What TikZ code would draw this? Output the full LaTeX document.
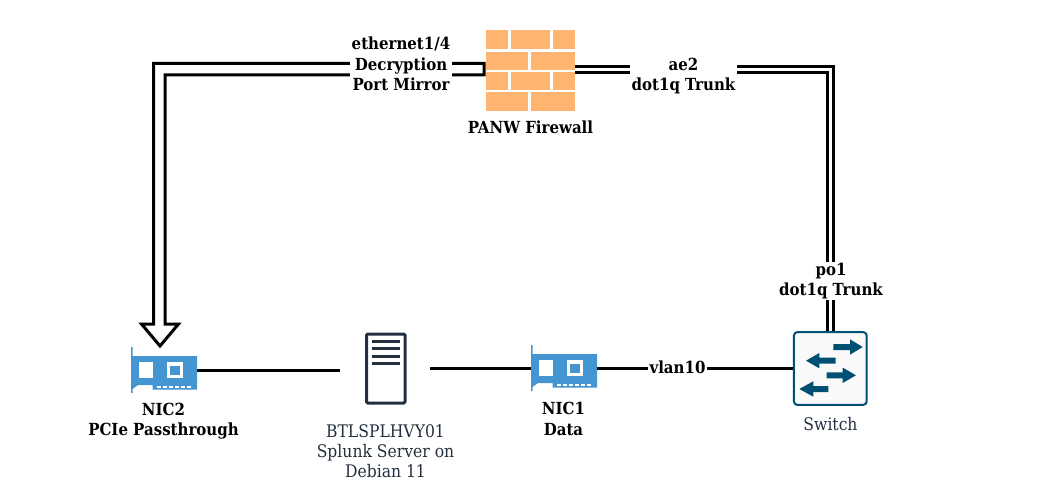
\documentclass[tikz,border=0pt]{standalone}
\usepackage{fontspec}
\setmainfont{DejaVu Serif Condensed}
\usetikzlibrary{calc}
\definecolor{brick}{HTML}{FFB570}
\definecolor{nicblue}{HTML}{4495D1}
\definecolor{swblue}{HTML}{005073}
\definecolor{srvdark}{HTML}{232F3E}
\tikzset{
  x=0.75pt,y=-0.75pt,
  conn/.style={draw=black,line width=2.25pt},
  dbl/.style={draw=black,line width=2.25pt,double=white,double distance=2.25pt},
  lbl/.style={font=\fontsize{12.5pt}{15.2pt}\selectfont\bfseries,align=center,inner sep=0pt,text=black},
  lblbg/.style={lbl,fill=white,inner xsep=1pt,inner ysep=1pt},
  plain/.style={font=\fontsize{13pt}{15pt}\selectfont,align=center,inner sep=0pt,text=srvdark},
  brk/.style={fill=brick,draw=none},
  box/.style={draw=none,inner sep=0pt,minimum width=#1},
  swarrow/.style={fill=swblue,draw=none},
  nic/.pic={
    \fill[nicblue] (0,0) -- (1.6,0) -- (1.6,9) -- (66,9) -- (66,42.5) -- (21.7,42.5) -- (21.7,38) -- (7,38) -- (1.6,42) -- (1.6,46) -- (0,46) -- cycle;
    \fill[white] (8,15.3) rectangle (21.7,31.3);
    \fill[white] (35.7,15.3) rectangle (52.3,31.3);
    \fill[nicblue] (39,18.6) rectangle (49,28);
    \foreach \dx in {26,32,38,44,50,56} \fill[white] (\dx,39) rectangle ++(4,2);
  }
}
\begin{document}
\begin{tikzpicture}
\useasboundingbox (0,0) rectangle (1060,502);
% anchors for connectors
\node[box=66pt*0.75,minimum height=34.5pt] (nicb) at (164,370) {};
\node[box=66pt*0.75,minimum height=34.5pt] (nica) at (564,368) {};
\node[box=90pt*0.75,minimum height=53pt] (srv) at (385,368.5) {};
\node[box=89pt*0.75,minimum height=61.5pt] (fw) at (530.5,69.5) {};
\node[draw=swblue,fill=black!2,line width=1.5pt,rounded corners=2.5pt,minimum width=54.5pt,minimum height=54.5pt,inner sep=0pt] (sw) at (830.3,368.5) {};
% connectors
\draw[conn] (nicb.east) -- (nicb.east -| srv.west);
\draw[conn] (srv.east |- nica.west) -- (nica.west);
\draw[conn] (nica.east) -- (nica.east -| sw.west);
\draw[dbl] (fw.east) -| (sw.north);
% hollow double arrow from the firewall to NIC2
\coordinate (a1) at (484,63.5);
\coordinate (a2) at (153.5,63.5);
\coordinate (a3) at (153.5,324);
\coordinate (a4) at (141.5,324);
\coordinate (a5) at (160,346);
\coordinate (a6) at (178.5,324);
\coordinate (a7) at (165,324);
\coordinate (a8) at (165,75);
\coordinate (a9) at (484,75);
\draw[conn,miter limit=10] (a1) -- (a2) -- (a3) -- (a4) -- (a5) -- (a6) -- (a7) -- (a8) -- (a9) -- cycle;
% firewall
\fill[brk] (486,30) rectangle (508,49.3);
\fill[brk] (511,30) rectangle (550,49.3);
\fill[brk] (553,30) rectangle (575,49.3);
\fill[brk] (486,51.7) rectangle (528,70);
\fill[brk] (531,51.7) rectangle (575,70);
\fill[brk] (486,71.7) rectangle (508,90);
\fill[brk] (511,71.7) rectangle (550,90);
\fill[brk] (553,71.7) rectangle (575,90);
\fill[brk] (486,92.3) rectangle (528,110.7);
\fill[brk] (531,92.3) rectangle (575,110.7);
% server
\draw[srvdark,line width=2.25pt,rounded corners=1pt] (366.5,334) rectangle (405,403);
\foreach \yy in {341.7,348.5,356,363}
  \draw[srvdark,line width=2.25pt] (372,\yy) -- (399.5,\yy);
% NIC cards
\pic at (131,347) {nic};
\pic at (531,345) {nic};
% switch arrows
\fill[swarrow] (833.3,344) -- (850,344) -- (850,339.3) -- (862.7,347) -- (850,354.7) -- (850,350) -- (833.3,350) -- cycle;
\fill[swarrow] (835.7,357.7) -- (819.3,357.7) -- (819.3,353) -- (806,360.7) -- (819.3,368.4) -- (819.3,363.7) -- (835.7,363.7) -- cycle;
\fill[swarrow] (826.7,372.3) -- (842.7,372.3) -- (842.7,367.6) -- (856,375.3) -- (842.7,383) -- (842.7,378.3) -- (826.7,378.3) -- cycle;
\fill[swarrow] (828.3,386) -- (813.3,386) -- (813.3,381.3) -- (799.3,389) -- (813.3,396.7) -- (813.3,392) -- (828.3,392) -- cycle;
% labels
\node[lblbg] (l1) at (401,64) {ethernet1/4\\Decryption\\Port Mirror};
\node[lblbg] (l2) at (683.5,76) {ae2\\dot1q Trunk};
\node[lblbg] (l3) at (831,281) {po1\\dot1q Trunk};
\node[lblbg] (l4) at (677.5,367.5) {vlan10};
\node[lbl] (l5) at (530.5,127) {PANW Firewall};
\node[lbl] (l6) at (163.5,421) {NIC2\\PCIe Passthrough};
\node[lbl] (l7) at (563.5,419) {NIC1\\Data};
\node[plain] (l8) at (385.5,451) {BTLSPLHVY01\\Splunk Server on\\Debian 11};
\node[plain] (l9) at (830.5,424) {Switch};
\end{tikzpicture}
\end{document}
